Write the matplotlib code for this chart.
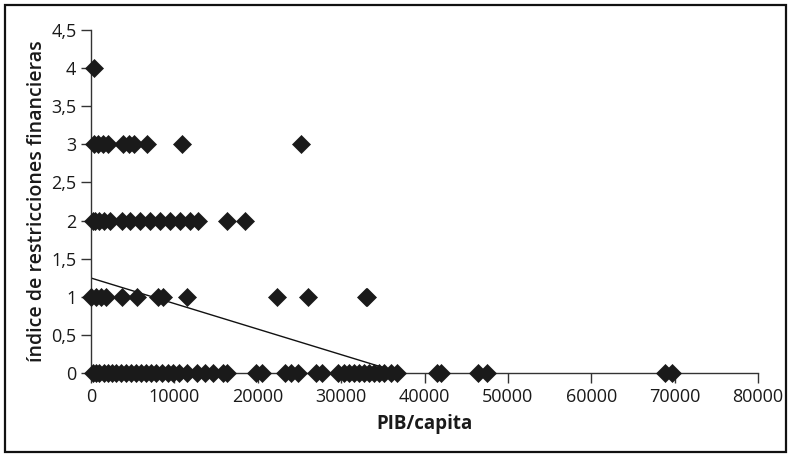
import matplotlib
matplotlib.use("Agg")
import matplotlib.pyplot as plt
from matplotlib.patches import Rectangle
import numpy as np

plt.rcParams['font.family'] = ['Open Sans', 'DejaVu Sans']

# PIB/capita values for each level of the index
pib_nivel4 = [400]
pib_nivel3 = [300, 800, 1400, 2000, 3800, 4500, 5200, 6700, 10900, 25200]
pib_nivel2 = [200, 500, 1000, 1500, 2300, 3700, 4700, 5900, 7100, 8300, 9500,
              10700, 11900, 12800, 16300, 18500]
pib_nivel1 = [0, 600, 1200, 1800, 3700, 5500, 8000, 8600, 11500, 22300, 26000,
              33000, 33150]
pib_nivel0 = [200, 600, 1000, 1500, 2000, 2500, 3000, 3600, 4200, 4800, 5400,
              6000, 6600, 7200, 7800, 8500, 9200, 9800, 10500, 11500, 12700,
              13700, 14600, 15800, 16300, 19800, 20500, 23300, 24000, 24800,
              27000, 27700, 29600, 30300, 31000, 31600, 32200, 32800, 33400,
              34000, 34600, 35200, 36000, 36700, 41500, 42000, 46400, 47500,
              68900, 69700]
niveles = [4, 3, 2, 1, 0]

# linear trend
trend_intercept = 1.246
trend_slope = -3.35e-5
trend_x = [0, 69700]

x_ticks = [0, 10000, 20000, 30000, 40000, 50000, 60000, 70000, 80000]
y_ticks = [0, 0.5, 1, 1.5, 2, 2.5, 3, 3.5, 4, 4.5]
y_ticklabels = ['0', '0,5', '1', '1,5', '2', '2,5', '3', '3,5', '4', '4,5']

xs = []
ys = []
for lvl, vals in zip(niveles, [pib_nivel4, pib_nivel3, pib_nivel2, pib_nivel1, pib_nivel0]):
    xs += vals
    ys += [lvl] * len(vals)

fig = plt.figure(figsize=(7.9, 4.55), dpi=100)
ax = fig.add_axes([91/790, 1 - 373/455, (758-91)/790, (373-30)/455])

tx = np.array(trend_x, dtype=float)
ax.plot(tx, trend_intercept + trend_slope * tx, color='#111111', lw=1.0, zorder=2)

ax.plot(xs, ys, linestyle='none', marker='D', markersize=9.6,
        markerfacecolor='#1a1a1a', markeredgecolor='#1a1a1a', markeredgewidth=0.5,
        clip_on=False, zorder=3)

ax.set_xlim(0, 80000)
ax.set_ylim(0, 4.5)
ax.set_xticks(x_ticks)
ax.set_xticklabels([str(v) for v in x_ticks])
ax.set_yticks(y_ticks)
ax.set_yticklabels(y_ticklabels)

for s in ['top', 'right']:
    ax.spines[s].set_visible(False)
for s in ['left', 'bottom']:
    ax.spines[s].set_color('#333333')
    ax.spines[s].set_linewidth(1.0)

ax.tick_params(axis='both', direction='out', length=7.5, width=1.0,
               color='#333333', labelsize=13, labelcolor='#1a1a1a', pad=3)

ax.set_xlabel('PIB/capita', fontsize=13.5, fontweight='bold', color='#1a1a1a', labelpad=6)
ax.set_ylabel('índice de restricciones financieras', fontsize=14, color='#1a1a1a',
              fontweight='semibold', labelpad=3)

fig.patches.append(Rectangle((5/790, 3/455), 1 - 9/790, 1 - 8/455,
                             transform=fig.transFigure, fill=False,
                             edgecolor='#111111', linewidth=1.6))

fig.savefig('out.png', dpi=100)
